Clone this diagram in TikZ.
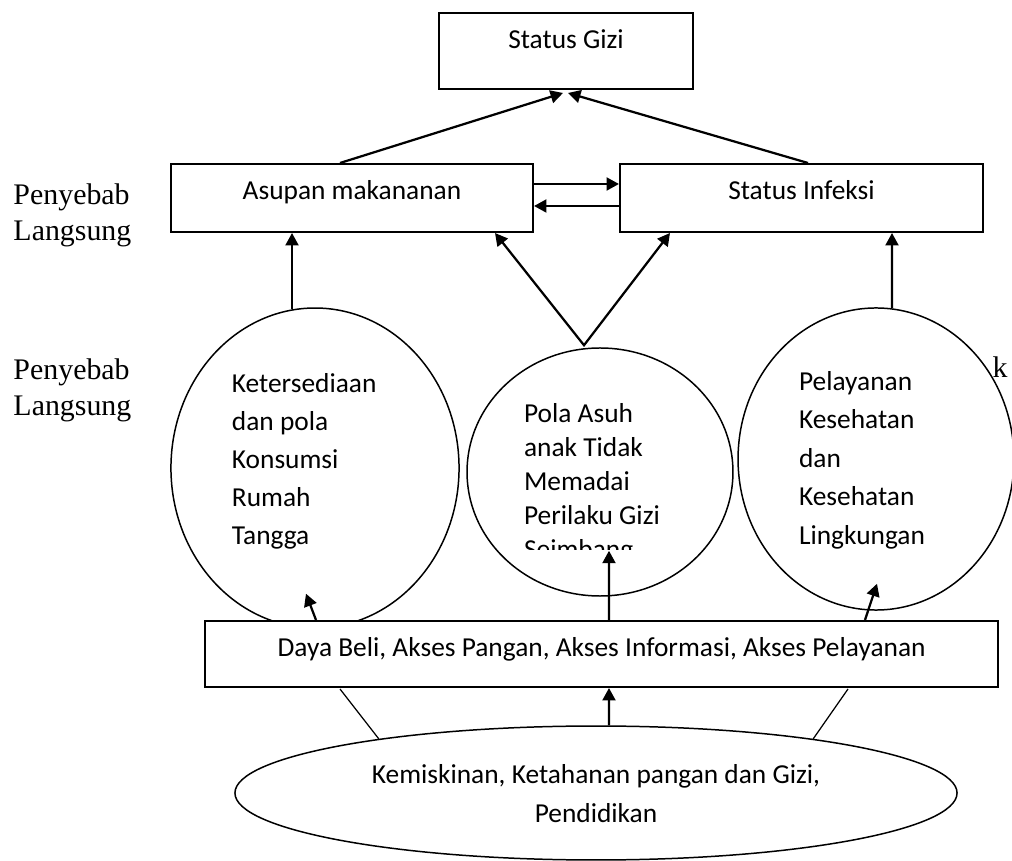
\documentclass[tikz,border=0pt]{standalone}
\usepackage{fontspec}
\setmainfont{Carlito}
\newfontfamily\hurufserif{Liberation Serif}
\usetikzlibrary{arrows.meta,shapes.geometric,calc}

\begin{document}
\begin{tikzpicture}[x=0.4016pt, y=-0.4016pt,
  box/.style={draw, line width=0.8pt, fill=white, inner sep=0pt, anchor=base,
    text height=14.46pt, font=\fontsize{11pt}{13pt}\selectfont},
  oval/.style={draw, ellipse, line width=0.6pt, inner sep=0pt, text height=8.03pt},
  arr/.style={line width=0.9pt, -{Triangle[length=5pt,width=5.2pt]}},
  arrdua/.style={line width=0.9pt, {Triangle[length=5pt,width=5.2pt]}-{Triangle[length=5pt,width=5.2pt]}},
  garis/.style={line width=0.5pt},
  side/.style={font=\hurufserif\fontsize{12pt}{14.06pt}\selectfont, text width=50pt,
    align=flush left, anchor=base west, inner sep=0pt}]
\useasboundingbox (0,0) rectangle (1012,861);

% kotak atas
\node[box, minimum width=102pt, text depth=16.06pt] (gizi) at (566,49) {Status Gizi};
\node[box, minimum width=145.4pt, text depth=12.85pt] (asupan) at (352,200) {Asupan makananan};
\node[box, minimum width=145.8pt, text depth=12.85pt] (infeksi) at (801.5,200) {Status Infeksi};

% penyebab tidak langsung
\node[oval, minimum width=115.7pt, minimum height=128.5pt, text width=66.7pt, align=flush left,
  text depth=68.3pt, font=\fontsize{11pt}{15.26pt}\selectfont] (konsumsi) at (315,468)
  {Ketersediaan\\dan pola\\Konsumsi\\Rumah\\Tangga};
\node[oval, minimum width=106.8pt, minimum height=99.6pt, text width=61pt, align=flush left,
  text depth=47.4pt, font=\fontsize{11pt}{13.65pt}\selectfont] (polaasuh) at (600,472)
  {Pola Asuh\\anak Tidak\\Memadai\\Perilaku Gizi\\Seimbang};
\fill[white] (520,550) rectangle (662,564);
\node[oval, minimum width=110.8pt, minimum height=121.3pt, text width=61.8pt, align=flush left,
  text depth=63.1pt, font=\fontsize{11pt}{15.46pt}\selectfont] (pelayanan) at (876,459)
  {Pelayanan\\Kesehatan\\dan\\Kesehatan\\Lingkungan};

\node[box, minimum width=318.5pt, text depth=12.05pt] (daya) at (601.5,657)
  {Daya Beli, Akses Pangan, Akses Informasi, Akses Pelayanan};
\node[oval, minimum width=290pt, minimum height=53.8pt, text width=190pt, align=flush center,
  text depth=15.26pt, font=\fontsize{11pt}{15.6pt}\selectfont] (kemiskinan) at (596,793)
  {Kemiskinan, Ketahanan pangan dan Gizi,\\Pendidikan};

% label kiri
\node[side] (kiri1) at (13,205) {Penyebab\\Langsung};
\node[side] (kiri2) at (13,380) {Penyebab\\Langsung};
\node[side] (potong) at (992,378) {k};

% panah
\draw[arr] ($(asupan.north)+(-12,0)$) -- ($(gizi.south)+(-3,3)$);
\draw[arr] ($(infeksi.north)+(6.5,0)$) -- ($(gizi.south)+(2,3)$);
\draw[arr] ($(asupan.east)+(0,-14)$) -- ($(infeksi.west)+(0,-14)$);
\draw[arr] ($(infeksi.west)+(0,8)$) -- ($(asupan.east)+(0,8)$);
\draw[arr] ($(konsumsi.north)+(-23,2)$) -- ($(asupan.south)+(-60,0)$);
\draw[arrdua] ($(asupan.south)+(143,0)$) -- ($(polaasuh.north)+(-16,-2)$) -- ($(infeksi.south)+(-131.5,0)$);
\draw[arr] ($(pelayanan.north)+(16,1)$) -- ($(infeksi.south)+(90.5,0)$);
\draw[arr] ($(daya.north)+(-285.5,0)$) -- ($(konsumsi.south)+(-9,-35)$);
\draw[arr] ($(daya.north)+(7.5,0)$) -- ($(polaasuh.south)+(9,-46)$);
\draw[arr] ($(daya.north)+(263.5,0)$) -- ($(pelayanan.south)+(1,-27)$);
\draw[arr] ($(kemiskinan.north)+(13,0)$) -- ($(daya.south)+(7.5,0)$);
\draw[garis] (kemiskinan.166) -- ($(daya.south)+(-261.5,1)$);
\draw[garis] (kemiskinan.14) -- ($(daya.south)+(246.5,1)$);
\end{tikzpicture}
\end{document}
